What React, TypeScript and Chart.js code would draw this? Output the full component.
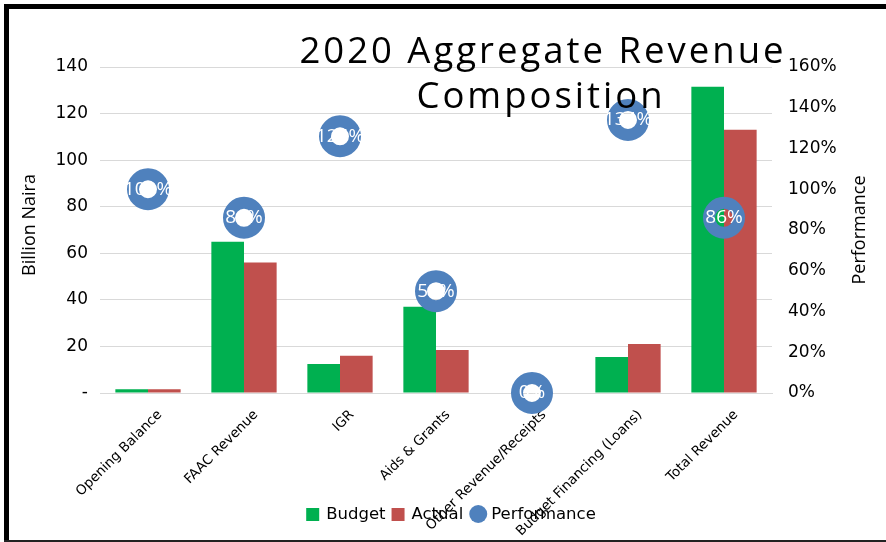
import React, { useEffect, useRef } from 'react';
import { Chart, registerables } from 'chart.js';

Chart.register(...registerables);

const categories = [
  'Opening Balance',
  'FAAC Revenue',
  'IGR',
  'Aids & Grants',
  'Other Revenue/Receipts',
  'Budget Financing (Loans)',
  'Total Revenue',
];
const budget = [1.6, 65, 12.5, 37, 0, 15.5, 131.5];
const actual = [1.6, 56, 16, 18.5, 0, 21, 113];
const performance = [100, 86, 126, 50, 0, 134, 86];

const leftAxis = { min: 0, max: 140, step: 20 };
const rightAxis = { min: 0, max: 160, step: 20 };

const titleLines = ['2020 Aggregate Revenue', 'Composition'];
const leftTitle = 'Billion Naira';
const rightTitle = 'Performance';
const seriesNames = ['Budget', 'Actual', 'Performance'];

const GREEN = '#00B050';
const RED = '#C0504D';
const BLUE = '#4F81BD';

const framePlugin = {
  id: 'frame',
  beforeDraw(chart: any) {
    const { ctx, width, height } = chart;
    ctx.save();
    ctx.fillStyle = '#ffffff';
    ctx.fillRect(0, 0, width, height);
    ctx.restore();
  },
  afterDraw(chart: any) {
    const { ctx, width, height } = chart;
    ctx.save();
    ctx.fillStyle = '#000';
    ctx.fillRect(4, 4, width - 4, 5);
    ctx.fillRect(4, 4, 5, height - 4);
    ctx.fillStyle = '#222';
    ctx.fillRect(4, height - 2, width - 4, 2);
    ctx.restore();
  },
};

const labelPlugin = {
  id: 'perfLabels',
  afterDatasetsDraw(chart: any) {
    const { ctx } = chart;
    const meta = chart.getDatasetMeta(2);
    ctx.save();
    ctx.font = '19px "Open Sans"';
    ctx.fillStyle = '#ffffff';
    ctx.textAlign = 'center';
    ctx.textBaseline = 'middle';
    meta.data.forEach((pt: any, i: number) => {
      ctx.fillText(performance[i] + '%', pt.x, pt.y);
    });
    ctx.restore();
  },
};

const legendPlugin = {
  id: 'customLegend',
  afterDraw(chart: any) {
    const { ctx } = chart;
    const datasets = chart.data.datasets;
    ctx.save();
    ctx.font = '16.5px "DejaVu Sans"';
    ctx.textBaseline = 'middle';
    ctx.textAlign = 'left';
    const cy = 515;
    const widths = datasets.map((d: any) => ctx.measureText(d.label).width);
    const markW = [13, 13, 18];
    const gapAfterMark = [7, 7, 4];
    const gapAfterText = 6;
    let total = 0;
    datasets.forEach((d: any, i: number) => {
      total += markW[i] + gapAfterMark[i] + widths[i];
      if (i < datasets.length - 1) total += gapAfterText;
    });
    let x = 451 - total / 2;
    datasets.forEach((d: any, i: number) => {
      if (i < 2) {
        ctx.fillStyle = d.backgroundColor;
        ctx.fillRect(x, cy - 7, 13, 13);
      } else {
        ctx.fillStyle = d.borderColor;
        ctx.beginPath();
        ctx.arc(x + 9, cy - 1, 9, 0, Math.PI * 2);
        ctx.fill();
      }
      x += markW[i] + gapAfterMark[i];
      ctx.fillStyle = '#000';
      ctx.fillText(d.label, x, cy);
      x += widths[i] + gapAfterText;
    });
    ctx.restore();
  },
};

const titlePlugin = {
  id: 'titles',
  afterDraw(chart: any) {
    const { ctx } = chart;
    ctx.save();
    ctx.fillStyle = '#000';
    ctx.textAlign = 'center';
    ctx.textBaseline = 'alphabetic';
    ctx.font = '36.5px "Open Sans"';
    try { (ctx as any).letterSpacing = '3px'; } catch (e) {}
    ctx.fillText(titleLines[0], 543, 63);
    ctx.fillText(titleLines[1], 541, 108);
    try { (ctx as any).letterSpacing = '0px'; } catch (e) {}

    ctx.font = '18px "Open Sans"';
    ctx.textBaseline = 'middle';
    ctx.save();
    ctx.translate(30, 225);
    ctx.rotate(-Math.PI / 2);
    ctx.fillText(leftTitle, 0, 0);
    ctx.restore();
    ctx.save();
    ctx.translate(860, 230);
    ctx.rotate(-Math.PI / 2);
    ctx.fillText(rightTitle, 0, 0);
    ctx.restore();
    ctx.restore();
  },
};

export default function App() {
  const ref = useRef<HTMLCanvasElement>(null);
  useEffect(() => {
    const chart = new Chart(ref.current as HTMLCanvasElement, {
      type: 'bar',
      data: {
        labels: categories,
        datasets: [
          {
            type: 'bar',
            label: seriesNames[0],
            data: budget,
            backgroundColor: GREEN,
            borderWidth: 0,
            categoryPercentage: 0.68,
            barPercentage: 1,
            yAxisID: 'y',
            order: 2,
          } as any,
          {
            type: 'bar',
            label: seriesNames[1],
            data: actual,
            backgroundColor: RED,
            borderWidth: 0,
            categoryPercentage: 0.68,
            barPercentage: 1,
            yAxisID: 'y',
            order: 2,
          } as any,
          {
            type: 'line',
            label: seriesNames[2],
            data: performance,
            yAxisID: 'y1',
            showLine: false,
            pointStyle: 'circle',
            pointRadius: 15,
            pointHoverRadius: 15,
            pointBorderWidth: 12,
            borderColor: BLUE,
            backgroundColor: 'rgba(0,0,0,0)',
            pointBackgroundColor: 'rgba(0,0,0,0)',
            clip: false,
            order: 0,
          } as any,
        ],
      },
      options: {
        responsive: false,
        animation: false,
        devicePixelRatio: 1,
        layout: { padding: { top: 67, left: 16, right: 0, bottom: 0 } },
        plugins: {
          title: { display: false },
          tooltip: { enabled: false },
          legend: { display: false },
        },
        scales: {
          x: {
            grid: { display: false, drawTicks: false },
            border: { display: true, color: '#d9d9d9', width: 1 },
            ticks: {
              color: '#000',
              font: { family: '"DejaVu Sans"', size: 13.5 },
              minRotation: 45,
              maxRotation: 45,
              autoSkip: false,
              padding: 14,
              labelOffset: 12,
            },
            afterFit: (s: any) => { s.height = 149; },
          },
          y: {
            position: 'left',
            min: leftAxis.min,
            max: leftAxis.max,
            grid: { color: '#d9d9d9', drawTicks: false },
            border: { display: false },
            ticks: {
              stepSize: leftAxis.step,
              color: '#000',
              padding: 12,
              font: { family: '"DejaVu Sans"', size: 17 },
              callback: (v: any) => (Number(v) === 0 ? '-' : String(v)),
            },
            afterFit: (s: any) => { s.width = 84; },
          },
          y1: {
            position: 'right',
            min: rightAxis.min,
            max: rightAxis.max,
            grid: { display: false, drawTicks: false },
            border: { display: false },
            ticks: {
              stepSize: rightAxis.step,
              color: '#000',
              padding: 16,
              font: { family: '"DejaVu Sans"', size: 17 },
              callback: (v: any) => v + '%',
            },
            afterFit: (s: any) => { s.width = 114; },
          },
        },
      },
      plugins: [framePlugin, labelPlugin, legendPlugin, titlePlugin],
    } as any);
    return () => chart.destroy();
  }, []);
  return (
    <div style={{ position: 'absolute', left: 0, top: 0, width: 886, height: 542 }}>
      <canvas ref={ref} width={886} height={542} style={{ display: 'block' }} />
    </div>
  );
}
